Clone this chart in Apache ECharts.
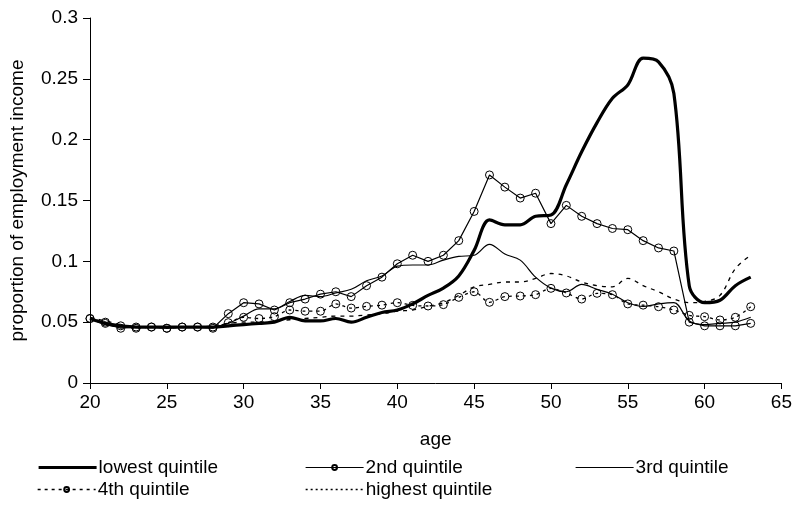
<!DOCTYPE html>
<html>
<head>
<meta charset="utf-8">
<script src="https://cdn.jsdelivr.net/npm/echarts@6/dist/echarts.min.js"></script>
<style>html,body{margin:0;padding:0;background:#fff;}#c{width:795px;height:511px;}</style>
</head>
<body>
<div id="c"></div>
<script>
var ages = [20,21,22,23,24,25,26,27,28,29,30,31,32,33,34,35,36,37,38,39,40,41,42,43,44,45,46,47,48,49,50,51,52,53,54,55,56,57,58,59,60,61,62,63];
var lowest = [0.053,0.049,0.047,0.046,0.046,0.046,0.046,0.046,0.046,0.047,0.048,0.049,0.050,0.054,0.051,0.051,0.053,0.050,0.054,0.058,0.060,0.065,0.072,0.078,0.088,0.109,0.134,0.130,0.130,0.137,0.138,0.163,0.190,0.214,0.234,0.245,0.267,0.264,0.238,0.080,0.066,0.068,0.080,0.087];
var second = [0.053,0.049,0.045,0.046,0.046,0.045,0.046,0.046,0.045,0.057,0.066,0.065,0.060,0.066,0.069,0.073,0.075,0.071,0.080,0.087,0.098,0.105,0.100,0.105,0.117,0.141,0.171,0.161,0.152,0.156,0.131,0.146,0.137,0.131,0.127,0.126,0.117,0.111,0.1085,0.050,0.047,0.047,0.047,0.049];
var third = [0.053,0.048,0.046,0.046,0.046,0.046,0.046,0.046,0.046,0.049,0.055,0.061,0.061,0.067,0.072,0.071,0.074,0.077,0.084,0.088,0.096,0.097,0.097,0.101,0.104,0.105,0.114,0.106,0.101,0.087,0.078,0.075,0.081,0.077,0.073,0.066,0.063,0.065,0.066,0.051,0.048,0.049,0.050,0.054];
var fourth = [0.053,0.050,0.047,0.045,0.046,0.045,0.046,0.046,0.046,0.0496,0.054,0.053,0.0545,0.060,0.059,0.059,0.065,0.0616,0.063,0.064,0.066,0.0638,0.0633,0.0644,0.0704,0.075,0.0663,0.071,0.0715,0.0726,0.0778,0.074,0.069,0.0737,0.0726,0.065,0.064,0.0627,0.060,0.0556,0.0545,0.0518,0.054,0.0627];
var highest = [0.054,0.051,0.048,0.046,0.046,0.046,0.046,0.046,0.047,0.049,0.050,0.050,0.051,0.052,0.053,0.054,0.055,0.055,0.056,0.057,0.059,0.060,0.063,0.066,0.072,0.079,0.081,0.083,0.083,0.086,0.090,0.088,0.083,0.080,0.079,0.086,0.080,0.075,0.069,0.066,0.067,0.072,0.094,0.105];
var seriesNames = ['lowest quintile','2nd quintile','3rd quintile','4th quintile','highest quintile'];
var xTicks = {min:20, max:65, interval:5};
var yTicks = {min:0, max:0.3, interval:0.05};

function pairs(arr){ return ages.map(function(a,i){ return [a, arr[i]]; }); }

var FONT = 'Liberation Sans, Arial, sans-serif';
var FS = 19;
var chart = echarts.init(document.getElementById('c'), null, {renderer:'canvas'});
var hollow = {color:'rgba(255,255,255,0)', borderColor:'#000', borderWidth:1};
function leg(item, left, top){
  return {data:[item], left:left, top:top, orient:'horizontal', itemWidth:58, itemHeight:6, itemGap:5,
    textStyle:{fontFamily:FONT, fontSize:FS, color:'#000', padding:[0,0,0,-3]}, padding:0, selectedMode:false};
}
var noSym = {opacity:0};
chart.setOption({
  animation:false,
  backgroundColor:'#fff',
  grid:{left:89, right:12, top:18, bottom:128, containLabel:false},
  xAxis:{type:'value', min:xTicks.min, max:xTicks.max, interval:xTicks.interval,
    name:'age', nameLocation:'middle', nameGap:47,
    nameTextStyle:{fontFamily:FONT, fontSize:FS, color:'#000'},
    axisLine:{show:true, onZero:false, lineStyle:{color:'#000', width:1}},
    axisTick:{show:true, length:6, lineStyle:{color:'#000'}},
    axisLabel:{fontFamily:FONT, fontSize:FS, color:'#000', margin:10},
    splitLine:{show:false}},
  yAxis:{type:'value', min:yTicks.min, max:yTicks.max, interval:yTicks.interval,
    name:'proportion of employment income', nameLocation:'middle', nameGap:63,
    nameTextStyle:{fontFamily:FONT, fontSize:FS, color:'#000'},
    axisLine:{show:true, lineStyle:{color:'#000', width:1}},
    axisTick:{show:true, length:7, lineStyle:{color:'#000'}},
    axisLabel:{fontFamily:FONT, fontSize:FS, color:'#000', margin:12},
    splitLine:{show:false}},
  legend:[
    leg({name:seriesNames[0], itemStyle:noSym, lineStyle:{width:3.2, type:'solid', color:'#000'}}, 37, 458),
    leg({name:seriesNames[1], lineStyle:{width:1.2, type:'solid', color:'#000'}}, 305, 458),
    leg({name:seriesNames[2], itemStyle:noSym, lineStyle:{width:1.2, type:'solid', color:'#000'}}, 575, 458),
    leg({name:seriesNames[3], lineStyle:{width:1.3, type:[3,4], color:'#000'}}, 37, 480),
    leg({name:seriesNames[4], itemStyle:noSym, lineStyle:{type:[2,3], width:1.3, color:'#000'}}, 305, 480)
  ],
  series:[
    {name:seriesNames[2], type:'line', data:pairs(third), smooth:0.35, symbol:'none', color:'#000',
      lineStyle:{color:'#000', width:1.2}},
    {name:seriesNames[4], type:'line', data:pairs(highest), smooth:0.35, symbol:'none', color:'#000',
      lineStyle:{color:'#000', width:1.3, type:[4,5]}},
    {name:seriesNames[3], type:'line', data:pairs(fourth), smooth:0.3, symbol:'circle', symbolSize:8, color:'#000',
      itemStyle:hollow, lineStyle:{color:'#000', width:1.3, type:[3,4]}},
    {name:seriesNames[1], type:'line', data:pairs(second), smooth:false, symbol:'circle', symbolSize:8, color:'#000',
      itemStyle:hollow, lineStyle:{color:'#000', width:1.2}},
    {name:seriesNames[0], type:'line', data:pairs(lowest), smooth:0.35, symbol:'none', color:'#000',
      lineStyle:{color:'#000', width:3.2}}
  ]
});
</script>
</body>
</html>
